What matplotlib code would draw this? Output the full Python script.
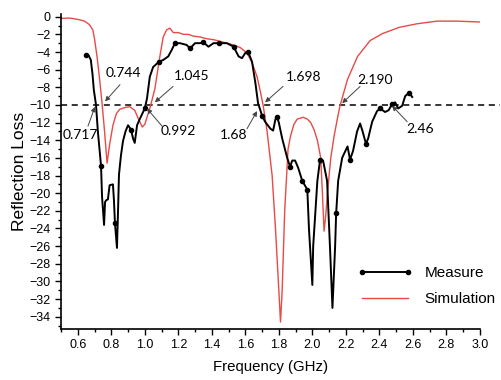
import numpy as np
import matplotlib
matplotlib.use("Agg")
import matplotlib.pyplot as plt
from matplotlib.ticker import MultipleLocator

# === Measured reflection loss (GHz, dB)
meas_f = [0.649, 0.665, 0.678, 0.688, 0.696, 0.709, 0.72, 0.739, 0.745, 0.757,
          0.763, 0.77, 0.78, 0.79, 0.81, 0.816, 0.822, 0.834, 0.84, 0.846,
          0.858, 0.87, 0.885, 0.9, 0.918, 0.93, 0.94, 0.954, 0.97, 0.99,
          1.0, 1.013, 1.03, 1.05, 1.085, 1.11, 1.14, 1.16, 1.18, 1.21,
          1.25, 1.27, 1.30, 1.33, 1.35, 1.38, 1.41, 1.44, 1.49, 1.53,
          1.56, 1.58, 1.60, 1.617, 1.64, 1.66, 1.676, 1.70, 1.718, 1.75,
          1.766, 1.78, 1.79, 1.80, 1.82, 1.85, 1.867, 1.88, 1.897, 1.915,
          1.94, 1.97, 1.98, 2.0, 2.005, 2.03, 2.046, 2.064, 2.088, 2.105,
          2.12, 2.136, 2.142, 2.154, 2.178, 2.185, 2.21, 2.225, 2.243, 2.267,
          2.285, 2.30, 2.32, 2.333, 2.357, 2.386, 2.405, 2.434, 2.455, 2.476,
          2.494, 2.512, 2.536, 2.554, 2.578, 2.596]
meas_rl = [-4.3, -4.4, -4.9, -6.5, -8.3, -10.0, -13.0, -16.9, -20.4, -23.6,
           -21.0, -20.8, -20.7, -19.1, -19.0, -20.8, -23.4, -26.2, -22.3, -17.9,
           -15.7, -14.1, -13.0, -12.3, -12.8, -13.8, -14.3, -12.3, -11.6, -10.8,
           -10.4, -9.3, -6.8, -5.7, -5.1, -4.9, -4.5, -3.8, -3.0, -3.0,
           -3.2, -3.6, -3.0, -3.0, -2.9, -3.4, -3.0, -3.0, -3.0, -3.4,
           -4.5, -4.7, -4.1, -4.0, -5.1, -7.5, -9.8, -11.2, -11.9, -12.7,
           -12.9, -11.6, -11.4, -12.0, -13.8, -16.0, -17.0, -16.3, -16.3, -17.1,
           -18.6, -19.6, -24.1, -30.4, -26.0, -18.6, -16.2, -16.3, -18.6, -26.0,
           -33.0, -26.0, -22.3, -18.6, -16.0, -15.7, -14.7, -16.2, -15.2, -13.0,
           -12.1, -13.0, -14.4, -13.8, -11.9, -10.7, -10.4, -10.8, -10.6, -9.9,
           -9.7, -10.4, -10.1, -9.0, -8.6, -9.1]
marker_f = [0.649, 0.739, 0.822, 0.918, 1.0, 1.085, 1.18, 1.27, 1.35, 1.44,
            1.53, 1.617, 1.70, 1.79, 1.867, 1.94, 1.97, 2.046, 2.142, 2.225,
            2.32, 2.405, 2.476, 2.578]

# === Simulated reflection loss
sim_f = [0.5, 0.55, 0.6, 0.64, 0.67, 0.69, 0.70, 0.715, 0.73, 0.745,
         0.76, 0.775, 0.79, 0.81, 0.83, 0.85, 0.88, 0.91, 0.94, 0.96,
         0.985, 1.0, 1.03, 1.06, 1.09, 1.11, 1.13, 1.15, 1.17, 1.2,
         1.23, 1.26, 1.29, 1.33, 1.37, 1.41, 1.45, 1.49, 1.53, 1.57,
         1.61, 1.64, 1.67, 1.69, 1.706, 1.73, 1.76, 1.78, 1.80, 1.81,
         1.82, 1.835, 1.855, 1.87, 1.89, 1.91, 1.945, 1.97, 1.99, 2.01,
         2.03, 2.05, 2.06, 2.07, 2.08, 2.09, 2.11, 2.13, 2.15, 2.165,
         2.21, 2.27, 2.345, 2.42, 2.52, 2.625, 2.745, 2.86, 3.0]
sim_rl = [-0.2, -0.15, -0.3, -0.5, -0.9, -1.5, -2.5, -4.5, -7.0, -9.8,
          -13.0, -16.6, -14.5, -12.3, -11.0, -10.5, -10.3, -10.2, -10.6, -11.5,
          -12.5, -12.2, -10.4, -8.2, -4.5, -2.3, -1.5, -1.3, -1.8, -1.8,
          -2.0, -2.0, -2.2, -2.3, -2.5, -2.6, -2.8, -3.0, -3.2, -3.5,
          -4.1, -5.2, -6.8, -8.5, -10.0, -13.0, -18.0, -24.0, -31.0, -34.6,
          -31.0, -22.0, -15.0, -13.5, -12.2, -11.6, -11.4, -11.6, -12.0, -12.8,
          -14.0, -16.0, -20.0, -24.3, -22.5, -20.0, -16.0, -13.5, -11.5, -10.1,
          -7.1, -4.5, -2.7, -1.9, -1.2, -0.8, -0.5, -0.5, -0.6]

# === Annotations: label, text position, arrow tail, arrow tip
ann_labels = ["0.744", "1.045", "0.717", "0.992", "1.68", "1.698", "2.190", "2.46"]
ann_text = [(0.87, -6.4), (1.28, -6.7), (0.613, -13.4), (1.20, -13.0),
            (1.53, -13.4), (1.945, -6.8), (2.375, -7.2), (2.643, -12.7)]
ann_tail = [(0.852, -7.7), (1.169, -7.9), (0.661, -12.4), (1.103, -12.4),
            (1.61, -12.7), (1.825, -7.9), (2.285, -7.9), (2.566, -11.9)]
ann_tip = [(0.763, -9.6), (1.06, -9.7), (0.703, -10.2), (1.013, -10.4),
           (1.67, -10.7), (1.718, -9.7), (2.178, -9.8), (2.476, -10.1)]

plt.rcParams['font.family'] = ['Liberation Sans', 'DejaVu Sans']

fig = plt.figure(figsize=(5.02, 3.8), dpi=100)
ax = fig.add_axes([0.1215, 0.134, 0.8345, 0.829])

mark_idx = [int(np.argmin(np.abs(np.array(meas_f) - f))) for f in marker_f]
ax.plot(meas_f, meas_rl, color='black', lw=1.4, marker='o', ms=3,
        markevery=mark_idx, label='Measure', zorder=3)
ax.plot(sim_f, sim_rl, color='#e84a46', lw=1.0, label='Simulation', zorder=2)

ax.plot([0.5, 3.12], [-10, -10], ls=(0, (4, 3)), color='black', lw=1.1,
        clip_on=False, zorder=1)

for lab, (tx, ty), tail, tip in zip(ann_labels, ann_text, ann_tail, ann_tip):
    ax.text(tx, ty, lab, ha='center', va='center', fontsize=10,
            family=['Lato', 'DejaVu Sans'], zorder=5)
    ax.annotate("", xy=tip, xytext=tail,
                arrowprops=dict(arrowstyle='-|>', color='#444444', lw=0.7,
                                mutation_scale=7, shrinkA=0, shrinkB=0),
                zorder=5)

ax.set_xlim(0.5, 3.0)
ax.set_ylim(-35.4, 0.3)
ax.xaxis.set_minor_locator(MultipleLocator(0.1))
ax.set_xticks(np.arange(0.6, 3.01, 0.2))
ax.set_xticklabels([f"{v:.1f}" for v in np.arange(0.6, 3.01, 0.2)])
ax.yaxis.set_minor_locator(MultipleLocator(1))
ax.set_yticks(np.arange(-34, 1, 2))
ax.tick_params(which='major', length=4, width=1, labelsize=9, direction='out')
ax.tick_params(which='minor', length=2.5, width=1, direction='out')
for s in ['top', 'right']:
    ax.spines[s].set_visible(False)
for s in ['left', 'bottom']:
    ax.spines[s].set_linewidth(1.2)

ax.set_xlabel("Frequency (GHz)", fontsize=10.8, labelpad=6)
ax.set_ylabel("Reflection Loss", fontsize=12.5, labelpad=2)

ax.legend(loc='lower right', bbox_to_anchor=(1.07, 0.03), frameon=False,
          fontsize=11, handlelength=3.6, numpoints=2, labelspacing=0.75)

fig.savefig("out.png", dpi=100)
plt.close(fig)
